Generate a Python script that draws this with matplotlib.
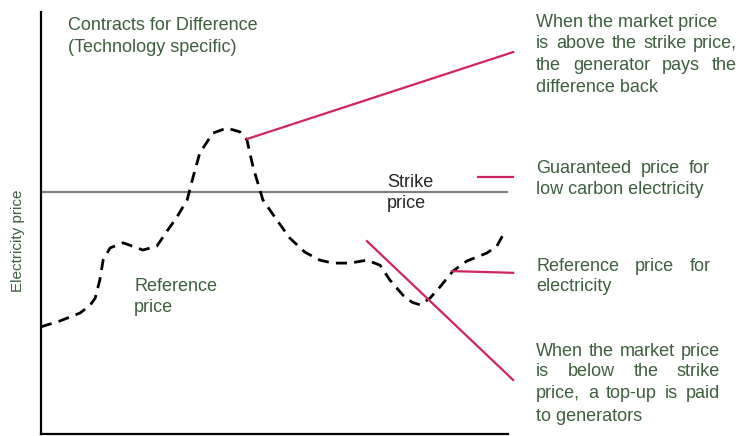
import matplotlib
matplotlib.use("Agg")
import matplotlib.pyplot as plt
from matplotlib.transforms import IdentityTransform

plt.rcParams['font.family'] = ['Liberation Sans', 'DejaVu Sans']

# reference (market) price over time
time = [0, 4.1, 8.4, 10.5, 11.6, 12.6, 13.3, 14.8, 17.6, 21.8, 24.8, 27.0, 29.1, 31.3,
        32.6, 34.0, 36.8, 39.8, 42.6, 44.1, 45.4, 47.5, 50.5, 53.3, 56.5, 59.7, 62.5,
        66.2, 69.8, 72.6, 74.7, 77.5, 79.5, 81.2, 83.3, 85.4, 88.2, 91.2, 95.5, 97.6, 99.4]
ref_price = [25.4, 26.8, 28.7, 30.5, 32.2, 36.5, 41.2, 44.1, 45.3, 43.6, 44.5, 48.1, 51.4, 55.5,
             61.0, 66.6, 71.3, 72.5, 71.6, 69.7, 63.3, 55.5, 50.7, 46.4, 43.1, 41.2, 40.5,
             40.5, 41.2, 40.0, 36.5, 32.9, 31.2, 30.6, 32.2, 34.8, 38.6, 41.0, 42.9, 44.5, 48.1]
strike = 57.3

# pointer lines (start, end) in data units
pointers = [
    ((44.1, 69.9), (101.1, 90.5)),
    ((93.6, 60.9), (101.1, 60.9)),
    ((88.0, 38.6), (101.1, 38.2)),
    ((69.8, 45.7), (101.1, 12.8)),
]

# right side notes: (line, justify-to right edge px or None)
notes = [
    [("When the market price", None), ("is above the strike price,", 737),
     ("the generator pays the", 737), ("difference back", None)],
    [("Guaranteed price for", 710), ("low carbon electricity", None)],
    [("Reference price for", 711), ("electricity", None)],
    [("When the market price", 720), ("is below the strike", 720),
     ("price, a top-up is paid", 720), ("to generators", None)],
]
note_rows = [[22, 43, 65, 87], [168, 189], [266, 286], [351, 371, 393, 416]]

green = "#3d5f3d"
pink = "#d0245e"
W, H = 740, 436

fig = plt.figure(figsize=(7.4, 4.36), dpi=100)
ax = fig.add_axes([41 / W, 2 / H, 467 / W, 422 / H])
ax.set_xlim(0, 100)
ax.set_ylim(0, 100)
for s in ["top", "right"]:
    ax.spines[s].set_visible(False)
for s in ["left", "bottom"]:
    ax.spines[s].set_linewidth(1.6)
    ax.spines[s].set_color("black")
ax.set_xticks([])
ax.set_yticks([])

ax.plot([0, 100], [strike, strike], color="#808080", lw=1.6, solid_capstyle="butt")
ax.plot(time, ref_price, color="black", lw=2.0, dashes=(4, 2.6), clip_on=False,
        solid_joinstyle="round")
for (x0, y0), (x1, y1) in pointers:
    ax.plot([x0, x1], [y0, y1], color=pink, lw=1.6, clip_on=False)

fs = 13
tr = IdentityTransform()


def put(x, y, s, **kw):
    # x, y in image pixels measured from top-left
    return fig.text(x, H - y, s, transform=tr, va="center", ha="left",
                    fontsize=kw.pop("fontsize", fs), color=kw.pop("color", green), **kw)


put(68, 25, "Contracts for Difference")
put(68, 47, "(Technology specific)")
put(134, 286, "Reference")
put(134, 307, "price")
put(387, 182, "Strike", color="#262626")
put(387, 203, "price", color="#262626")
fig.text(18, H - 241, "Electricity price", transform=tr, rotation=90, ha="center",
         va="center", fontsize=11, color=green)

renderer = fig.canvas.get_renderer()
x_left = 536
for block, rows in zip(notes, note_rows):
    for (line, right), y in zip(block, rows):
        if right is None:
            put(x_left, y, line)
            continue
        words = line.split()
        arts = [put(x_left, y, w) for w in words]
        widths = [a.get_window_extent(renderer).width for a in arts]
        gap = (right - x_left - sum(widths)) / (len(words) - 1)
        x = x_left
        for a, w in zip(arts, widths):
            a.set_x(x)
            x += w + gap

fig.savefig("out.png", dpi=100)
